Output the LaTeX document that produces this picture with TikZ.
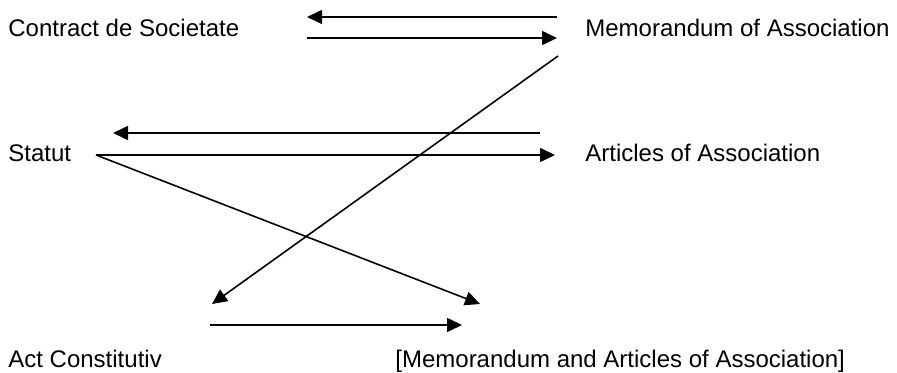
\documentclass[tikz,border=0pt]{standalone}
\usepackage{fontspec}
\setmainfont{Liberation Sans}
\usetikzlibrary{arrows.meta}
\tikzset{
  arr/.style={-{Triangle[length=7.5pt,width=7pt]},line width=0.8pt},
  term/.style={anchor=base west,inner sep=0pt,font=\fontsize{12}{14}\selectfont}
}
\begin{document}
\begin{tikzpicture}[x=0.5pt,y=-0.5pt]
            \useasboundingbox (0,0) rectangle (897,373);
            \node[term] (contract) at (8,37){Contract de Societate};
            \node[term] (memo) at (585,37){Memorandum of Association};
            \node[term] (statut) at (8,162){Statut};
            \node[term] (articles) at (585,162){Articles of Association};
            \node[term] (act) at (8,367){Act Constitutiv};
            \node[term] (memart) at (395,367){[Memorandum and Articles of Association]};
            \coordinate (c1) at (557,17); \coordinate (c2) at (307,17);
            \coordinate (c3) at (307,38); \coordinate (c4) at (557,38);
            \coordinate (m1) at (558,56); \coordinate (m2) at (212,304);
            \coordinate (s1) at (540,133); \coordinate (s2) at (113,133);
            \coordinate (s3) at (96,155); \coordinate (s4) at (555,155);
            \coordinate (s5) at (480,304);
            \coordinate (a1) at (210,325); \coordinate (a2) at (462,325);
            \draw[arr](c1)--(c2);
            \draw[arr](c3)--(c4);
            \draw[arr](m1)--(m2);
            \draw[arr](s1)--(s2);
            \draw[arr](s3)--(s4);
            \draw[arr](s3)--(s5);
            \draw[arr](a1)--(a2);
        \end{tikzpicture}
\end{document}
